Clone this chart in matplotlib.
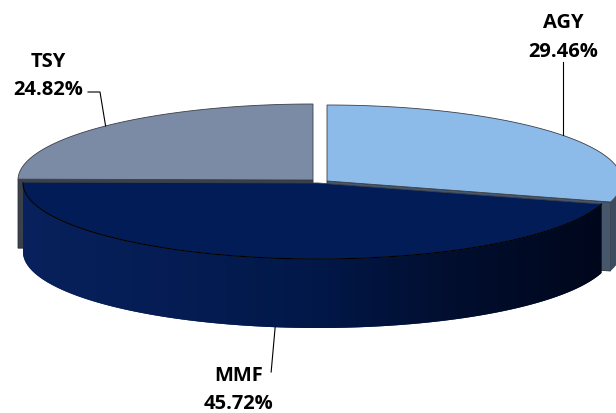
import numpy as np
import matplotlib
matplotlib.use("Agg")
import matplotlib.pyplot as plt
from matplotlib.patches import Polygon
from matplotlib.colors import LinearSegmentedColormap

# ---- data ----
labels = ["AGY", "MMF", "TSY"]
values = [29.46, 45.72, 24.82]
pct_labels = ["29.46%", "45.72%", "24.82%"]

# ---- style ----
top_colors = ["#8cbbea", "#021c58", "#7b8ba6"]
face_colors = ["#46566b", "#0a2461", "#3a414b"]
wall_colors = ["#3c4c5f", "#0a2461", "#3a414b"]
offsets = [(9, -2), (0, 0), (-5, -3)]     # explosion per slice (pixels)
CX, CY = 318, 184                          # pie centre (pixels)
RX, RY, DEPTH = 295, 76, 69
label_pos = [(563, 28, 57), (239, 381, 409), (48, 67, 95)]  # x, baseline1, baseline2
label_kinks = [None, None, (100, 93, 88)]
FONT = ["Open Sans", "DejaVu Sans"]

fig = plt.figure(figsize=(6.16, 4.14), dpi=100)
ax = fig.add_axes([0, 0, 1, 1])
ax.set_xlim(0, 616)
ax.set_ylim(414, 0)
ax.axis("off")


def rim(cx, cy, a1, a2, n=300):
    t = np.radians(np.linspace(a1, a2, n))
    return np.column_stack([cx + RX * np.cos(t), cy - RY * np.sin(t)])


# angles: start at 12 o'clock, clockwise
total = sum(values)
spans = [v / total * 360 for v in values]
starts = []
a = 90.0
for s in spans:
    starts.append((a, a - s))  # (high, low)
    a -= s

geo = []
for i in range(len(values)):
    hi, lo = starts[i]
    cx, cy = CX + offsets[i][0], CY + offsets[i][1]
    geo.append((cx, cy, lo, hi))


def visible_wall(lo, hi):
    segs = []
    for base in (-360, 0, 360):
        a1, a2 = max(lo, base - 180), min(hi, base)
        if a2 > a1:
            segs.append((a1, a2))
    return segs


def radial_face(cx, cy, ang):
    t = np.radians(ang)
    px, py = cx + RX * np.cos(t), cy - RY * np.sin(t)
    return [(cx, cy), (px, py), (px, py + DEPTH), (cx, cy + DEPTH)]


def wall_poly(cx, cy, a1, a2):
    top = rim(cx, cy, a1, a2)
    bot = top[::-1].copy()
    bot[:, 1] += DEPTH
    return np.vstack([top, bot])


def front_facing_faces(i):
    cx, cy, lo, hi = geo[i]
    faces = []
    if np.sin(np.radians(lo - 90)) < -1e-6:
        faces.append(radial_face(cx, cy, lo))
    if np.sin(np.radians(hi + 90)) < -1e-6:
        faces.append(radial_face(cx, cy, hi))
    return faces


def draw_slice(i, gradient=False):
    cx, cy, lo, hi = geo[i]
    for f in front_facing_faces(i):
        ax.add_patch(Polygon(f, closed=True, facecolor=face_colors[i],
                             edgecolor="#2a2f36", lw=0.6, zorder=2))
    for a1, a2 in visible_wall(lo, hi):
        poly = wall_poly(cx, cy, a1, a2)
        p = Polygon(poly, closed=True, facecolor=wall_colors[i],
                    edgecolor="none", lw=0, zorder=3)
        ax.add_patch(p)
        if gradient:
            cmap = LinearSegmentedColormap.from_list(
                "g", ["#09215c", "#051d54", "#021849", "#010e2e", "#00071c"])
            grad = np.linspace(0, 1, 256).reshape(1, -1)
            x0, x1 = poly[:, 0].min(), poly[:, 0].max()
            y0, y1 = poly[:, 1].min(), poly[:, 1].max()
            im = ax.imshow(grad, cmap=cmap, aspect="auto",
                           extent=(x0, x1, y1, y0), zorder=3.1,
                           interpolation="bilinear")
            im.set_clip_path(p)
    pts = np.vstack([[(cx, cy)], rim(cx, cy, lo, hi)])
    ax.add_patch(Polygon(pts, closed=True, facecolor=top_colors[i],
                         edgecolor="#3a3f47", lw=0.6, zorder=4))
    if gradient:
        ax.plot(*rim(cx, cy, max(lo, -180), min(hi, 0)).T, color="black",
                lw=0.8, zorder=4.5)


# back slices first, MMF (front) last
for i in (2, 0):
    draw_slice(i)
draw_slice(1, gradient=True)

# labels with leader lines
for i in range(len(values)):
    cx, cy, lo, hi = geo[i]
    mid = np.radians((lo + hi) / 2)
    ax_x = cx + RX * np.cos(mid)
    ax_y = cy - RY * np.sin(mid)
    if np.sin(mid) < 0:
        ax_y += DEPTH
    lx, b1, b2 = label_pos[i]
    if i == 0:
        ax.plot([ax_x, ax_x], [ax_y, b2 + 6], color="black", lw=0.8, zorder=6)
    elif i == 1:
        ax.plot([ax_x, ax_x - 4], [ax_y, b1 - 8], color="black", lw=0.8, zorder=6)
    else:
        kx, ky, ex = label_kinks[i]
        ax.plot([ax_x, kx, ex], [ax_y, ky, ky], color="black", lw=0.8, zorder=6)
    ax.text(lx, b1, labels[i], ha="center", va="baseline", fontsize=14.5,
            fontweight="bold", family=FONT, color="black")
    ax.text(lx, b2, pct_labels[i], ha="center", va="baseline", fontsize=14.5,
            fontweight="bold", family=FONT, color="black")

fig.savefig("out.png", dpi=100)
